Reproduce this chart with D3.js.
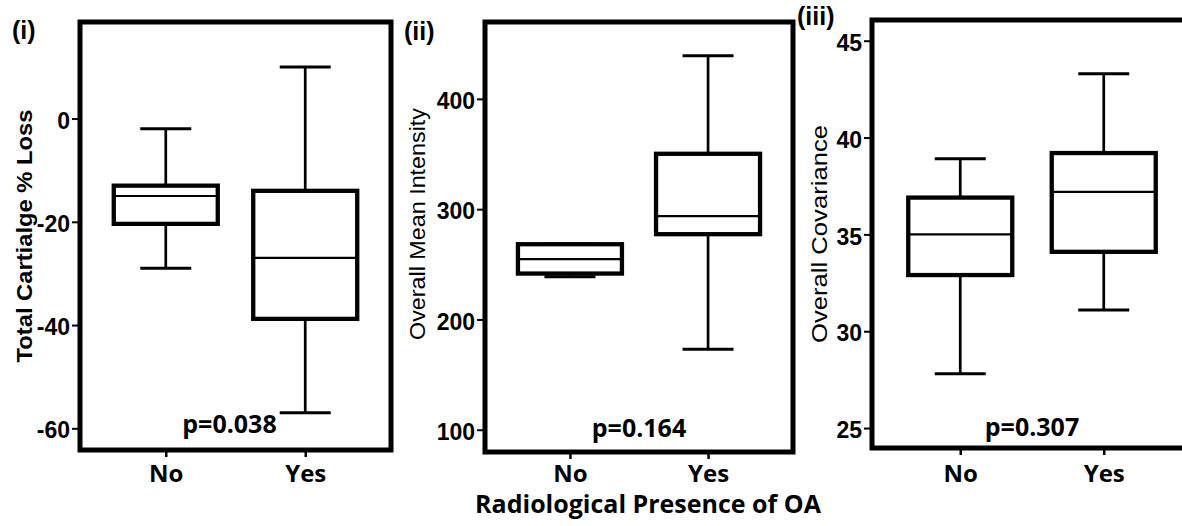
<!DOCTYPE html>
<html>
<head>
<meta charset="utf-8">
<script src="https://cdn.jsdelivr.net/npm/d3@7"></script>
<style>
  html, body { margin: 0; padding: 0; background: #ffffff; }
  svg { display: block; }
</style>
</head>
<body>
<svg id="chart" width="1182" height="526"></svg>
<script>
// ---------------- DATA ----------------
const categories = ["No", "Yes"];
const panelLabels = ["(i)", "(ii)", "(iii)"];
const yTitles = ["Total Cartialge % Loss", "Overall Mean Intensity", "Overall Covariance"];
const pValues = ["p=0.038", "p=0.164", "p=0.307"];
const xTitle = "Radiological Presence of OA";

// five-number summaries: [min, Q1, median, Q3, max]
const lossNo  = [-29, -20.4, -15, -13, -2];
const lossYes = [-57, -38.8, -27, -14, 10];
const intensityNo  = [238.6, 241.6, 254.6, 268.2, 268.2];
const intensityYes = [173, 277.3, 293.6, 350.2, 439];
const covarianceNo  = [27.8, 32.9, 35.0, 36.9, 38.9];
const covarianceYes = [31.1, 34.1, 37.2, 39.2, 43.3];

const lossTicks = [-60, -40, -20, 0];
const intensityTicks = [100, 200, 300, 400];
const covarianceTicks = [25, 30, 35, 40, 45];

// ---------------- LAYOUT ----------------
const panels = [
  { boxes: [lossNo, lossYes], ticks: lossTicks, domain: [-64.2, 18.7],
    left: 80, right: 391, top: 22, bottom: 450,
    titleX: 32, titleY: 236, titleLen: 253, titleWeight: "bold",
    labelX: 12, labelY: 39, pY: 433, pDx: -6 },
  { boxes: [intensityNo, intensityYes], ticks: intensityTicks, domain: [79.8, 469.7],
    left: 485, right: 793, top: 22, bottom: 452,
    titleX: 425, titleY: 224, titleLen: 232, titleWeight: "normal",
    labelX: 404, labelY: 40, pY: 437, pDx: 0 },
  { boxes: [covarianceNo, covarianceYes], ticks: covarianceTicks, domain: [23.97, 46.07],
    left: 872, right: 1192, top: 20, bottom: 448,
    titleX: 827, titleY: 234, titleLen: 218, titleWeight: "normal",
    labelX: 797, labelY: 25, pY: 436, pDx: 0 }
];

const svg = d3.select("#chart");
const tickFont = "'Liberation Sans', Arial, sans-serif";
const catFont = "'Open Sans', 'Noto Sans', sans-serif";

panels.forEach((p, i) => {
  const g = svg.append("g");
  const x = d3.scalePoint().domain(categories).range([p.left, p.right]).padding(0.615);
  const y = d3.scaleLinear().domain(p.domain).range([p.bottom, p.top]);

  // y axis
  const yAxis = g.append("g")
    .attr("transform", `translate(${p.left},0)`)
    .call(d3.axisLeft(y).tickValues(p.ticks).tickSize(8).tickPadding(2).tickFormat(d => String(d)));
  yAxis.select(".domain").remove();
  yAxis.selectAll(".tick line").attr("stroke", "#000").attr("stroke-width", 2);
  yAxis.selectAll(".tick text")
    .attr("fill", "#000")
    .attr("font-family", tickFont)
    .attr("font-weight", "bold")
    .attr("font-size", 23)
    .attr("dy", "0.42em");

  // x axis
  const xAxis = g.append("g")
    .attr("transform", `translate(0,${p.bottom})`)
    .call(d3.axisBottom(x).tickSize(7).tickPadding(8));
  xAxis.select(".domain").remove();
  xAxis.selectAll(".tick line").attr("stroke", "#000").attr("stroke-width", 2.5);
  xAxis.selectAll(".tick text")
    .attr("fill", "#000")
    .attr("font-family", catFont)
    .attr("font-weight", "bold")
    .attr("font-size", 24)
    .attr("y", 0)
    .attr("dy", 0)
    .attr("transform", `translate(0,${482 - p.bottom})`);

  // boxes
  const boxW = 104, capW = 51;
  const data = categories.map((c, k) => ({ c, v: p.boxes[k] }));
  const bg = g.selectAll(".box").data(data).enter().append("g");
  // whiskers
  bg.append("line")
    .attr("x1", d => x(d.c)).attr("x2", d => x(d.c))
    .attr("y1", d => y(d.v[0])).attr("y2", d => y(d.v[4]))
    .attr("stroke", "#000").attr("stroke-width", 2.7);
  // caps
  [0, 4].forEach(k => {
    bg.append("line")
      .attr("x1", d => x(d.c) - capW / 2).attr("x2", d => x(d.c) + capW / 2)
      .attr("y1", d => y(d.v[k])).attr("y2", d => y(d.v[k]))
      .attr("stroke", "#000").attr("stroke-width", 3);
  });
  // box
  bg.append("rect")
    .attr("x", d => x(d.c) - boxW / 2)
    .attr("width", boxW)
    .attr("y", d => y(d.v[3]))
    .attr("height", d => y(d.v[1]) - y(d.v[3]))
    .attr("fill", "#fff")
    .attr("stroke", "#000").attr("stroke-width", 4.3);
  // median
  bg.append("line")
    .attr("x1", d => x(d.c) - boxW / 2).attr("x2", d => x(d.c) + boxW / 2)
    .attr("y1", d => y(d.v[2])).attr("y2", d => y(d.v[2]))
    .attr("stroke", "#000").attr("stroke-width", 2.2);

  // frame
  g.append("rect")
    .attr("x", p.left).attr("y", p.top)
    .attr("width", p.right - p.left).attr("height", p.bottom - p.top)
    .attr("fill", "none").attr("stroke", "#000").attr("stroke-width", 5);

  // p value
  g.append("text")
    .attr("x", (x(categories[0]) + x(categories[1])) / 2 + p.pDx)
    .attr("y", p.pY)
    .attr("text-anchor", "middle")
    .attr("font-family", catFont)
    .attr("font-weight", "bold")
    .attr("font-size", 25)
    .text(pValues[i]);

  // y title
  g.append("text")
    .attr("transform", `translate(${p.titleX},${p.titleY}) rotate(-90)`)
    .attr("text-anchor", "middle")
    .attr("font-family", tickFont)
    .attr("font-weight", p.titleWeight)
    .attr("font-size", 22)
    .attr("textLength", p.titleLen)
    .attr("lengthAdjust", "spacingAndGlyphs")
    .text(yTitles[i]);

  // panel label
  g.append("text")
    .attr("x", p.labelX).attr("y", p.labelY)
    .attr("font-family", tickFont)
    .attr("font-weight", "bold")
    .attr("font-size", 25)
    .text(panelLabels[i]);
});

// shared x title
svg.append("text")
  .attr("x", 648).attr("y", 513)
  .attr("text-anchor", "middle")
  .attr("font-family", catFont)
  .attr("font-weight", "bold")
  .attr("font-size", 25)
  .text(xTitle);
</script>
</body>
</html>
